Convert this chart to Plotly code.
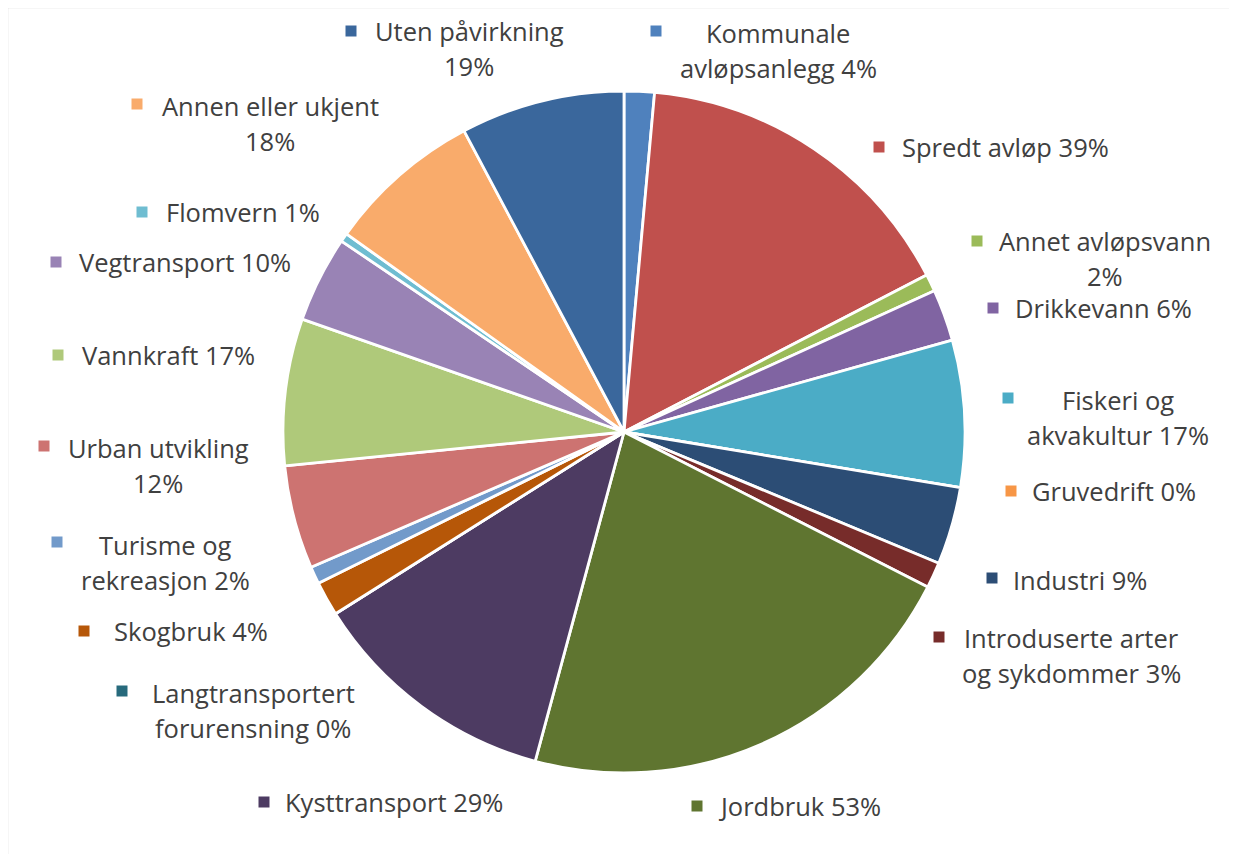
import plotly.graph_objects as go

W, H = 1237, 854
OFF_X, OFF_Y = 8, 8  # page body margin

categories = [
    "Kommunale avløpsanlegg", "Spredt avløp", "Annet avløpsvann", "Drikkevann",
    "Fiskeri og akvakultur", "Gruvedrift", "Industri", "Introduserte arter og sykdommer",
    "Jordbruk", "Kysttransport", "Langtransportert forurensning", "Skogbruk",
    "Turisme og rekreasjon", "Urban utvikling", "Vannkraft", "Vegtransport",
    "Flomvern", "Annen eller ukjent", "Uten påvirkning",
]
values = [3.5, 39, 2, 6, 17, 0, 9, 3, 53, 29, 0, 4, 2, 12, 17, 10, 1, 18, 19]
colors = [
    "#4F81BD", "#C0504D", "#9BBB59", "#8064A2", "#4BACC6", "#F79646", "#2C4D75",
    "#772C2A", "#5F7530", "#4D3B62", "#276A7C", "#B65708", "#729ACA", "#CD7371",
    "#AFC97A", "#9983B5", "#6FBDD1", "#F9AB6B", "#3A679C",
]
# label lines (text) per category
label_lines = [
    ["Kommunale", "avløpsanlegg 4%"],
    ["Spredt avløp 39%"],
    ["Annet avløpsvann", "2%"],
    ["Drikkevann 6%"],
    ["Fiskeri og", "akvakultur 17%"],
    ["Gruvedrift 0%"],
    ["Industri 9%"],
    ["Introduserte arter", "og sykdommer 3%"],
    ["Jordbruk 53%"],
    ["Kysttransport 29%"],
    ["Langtransportert", "forurensning 0%"],
    ["Skogbruk 4%"],
    ["Turisme og", "rekreasjon 2%"],
    ["Urban utvikling", "12%"],
    ["Vannkraft 17%"],
    ["Vegtransport 10%"],
    ["Flomvern 1%"],
    ["Annen eller ukjent", "18%"],
    ["Uten påvirkning", "19%"],
]
# layout: text centre x, first-line centre y, key centre (x, y) in pixels
label_pos = [
    (778, 33, 656, 31), (1005, 147, 879, 147), (1105, 241, 977, 241),
    (1103, 308, 993, 308), (1118, 400, 1008, 398), (1114, 491, 1011, 491),
    (1080, 580, 992, 578), (1071, 638, 939, 637), (799, 806, 697, 806),
    (394, 802, 264, 802), (253, 693, 122, 691), (191, 631, 84, 631),
    (165, 545, 57, 542), (158, 448, 44, 446), (168, 355, 58, 355),
    (185, 262, 56, 262), (243, 212, 142, 212), (270, 106, 137, 104),
    (469, 31, 351, 31),
]
LINE_H = 35
KEY = 11


def px(x):
    return (x - OFF_X) / W


def py(y):
    return 1 - (y - OFF_Y) / H


fig = go.Figure(go.Pie(
    labels=categories, values=values, sort=False, direction="clockwise",
    rotation=0, marker=dict(colors=colors, line=dict(color="white", width=2.8)),
    textinfo="none", showlegend=False,
    domain=dict(x=[px(283), px(965)], y=[py(773), py(91)]),
))

annotations = []
shapes = []
for lines, (tx, ty, kx, ky), col in zip(label_lines, label_pos, colors):
    for i, line in enumerate(lines):
        annotations.append(dict(
            x=px(tx), y=py(ty + i * LINE_H), xref="paper", yref="paper",
            text=line, showarrow=False, xanchor="center", yanchor="middle",
            font=dict(family="Open Sans", size=25.5, color="#404040"),
        ))
    shapes.append(dict(
        type="rect", xref="paper", yref="paper",
        x0=px(kx - KEY / 2), x1=px(kx + KEY / 2),
        y0=py(ky + KEY / 2), y1=py(ky - KEY / 2),
        fillcolor=col, line=dict(width=0),
    ))

shapes.append(dict(
    type="rect", xref="paper", yref="paper",
    x0=px(7.5), x1=px(W + 30), y0=py(H + 30), y1=py(7.5),
    line=dict(color="#D9D9D9", width=1.5), fillcolor="rgba(0,0,0,0)",
))

fig.update_layout(
    width=W, height=H, margin=dict(l=0, r=0, t=0, b=0),
    paper_bgcolor="white", plot_bgcolor="white",
    annotations=annotations, shapes=shapes,
)

fig.write_html("out.html")
